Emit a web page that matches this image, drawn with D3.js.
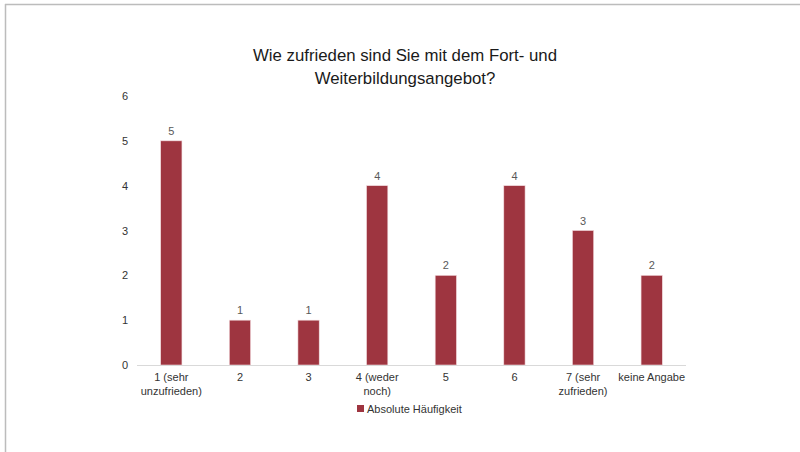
<!DOCTYPE html>
<html lang="de">
<head>
<meta charset="UTF-8">
<title>Fort- und Weiterbildungsangebot</title>
<script src="https://d3js.org/d3.v7.min.js"></script>
<style>
    body { margin: 0; background: #fff; }
    text { font-family: "Liberation Sans", Arial, Helvetica, sans-serif; }
</style>
</head>
<body>
<svg id="chart" width="800" height="452"></svg>
<script>
    // Kategorien (Zeilenumbruch als Array)
    const categories = [
        ["1 (sehr", "unzufrieden)"],
        ["2"],
        ["3"],
        ["4 (weder", "noch)"],
        ["5"],
        ["6"],
        ["7 (sehr", "zufrieden)"],
        ["keine Angabe"]
    ];
    const values = [5, 1, 1, 4, 2, 4, 3, 2];
    const yTicks = [0, 1, 2, 3, 4, 5, 6];
    const titleLines = ["Wie zufrieden sind Sie mit dem Fort- und", "Weiterbildungsangebot?"];
    const seriesName = "Absolute Häufigkeit";

    const barColor = "#9e3540";
    const svg = d3.select("#chart");

    // Rahmen
    svg.append("line").attr("x1", 5).attr("x2", 800).attr("y1", 4.5).attr("y2", 4.5)
        .attr("stroke", "#bcbcbc").attr("stroke-width", 1.5);
    svg.append("line").attr("x1", 5.5).attr("x2", 5.5).attr("y1", 4).attr("y2", 452)
        .attr("stroke", "#bcbcbc").attr("stroke-width", 1.5);

    const plotLeft = 137, plotRight = 686, plotTop = 96, plotBottom = 365;
    const keys = categories.map((d, i) => i);

    const x = d3.scaleBand().domain(keys).range([plotLeft, plotRight]).paddingInner(0.69).paddingOuter(0.345);
    const y = d3.scaleLinear().domain([0, 6]).range([plotBottom, plotTop]);

    // Titel
    svg.append("g").selectAll("text")
        .data(titleLines)
        .join("text")
        .attr("x", 405)
        .attr("y", (d, i) => 61 + i * 23)
        .attr("text-anchor", "middle")
        .attr("font-size", 16.8)
        .attr("fill", "#1a1a1a")
        .text(d => d);

    // y-Achse (nur Beschriftung)
    const yAxis = svg.append("g")
        .attr("transform", `translate(${plotLeft - 9},0)`)
        .call(d3.axisLeft(y).tickValues(yTicks).tickFormat(d3.format("d")).tickSize(0).tickPadding(0));
    yAxis.select(".domain").remove();
    yAxis.selectAll("text").attr("font-size", 11).attr("fill", "#333")
        .attr("font-family", "Liberation Sans, Arial, sans-serif");

    // Balken
    svg.append("g").selectAll("rect")
        .data(values)
        .join("rect")
        .attr("x", (d, i) => x(i))
        .attr("y", d => y(d))
        .attr("width", x.bandwidth())
        .attr("height", d => y(0) - y(d))
        .attr("fill", barColor)
        .attr("stroke", "#f3dcdf")
        .attr("stroke-width", 0.6);

    // Datenbeschriftung
    svg.append("g").selectAll("text")
        .data(values)
        .join("text")
        .attr("x", (d, i) => x(i) + x.bandwidth() / 2)
        .attr("y", d => y(d) - 6)
        .attr("text-anchor", "middle")
        .attr("font-size", 11)
        .attr("fill", "#595959")
        .text(d => d);

    // x-Achse
    svg.append("line")
        .attr("x1", plotLeft).attr("x2", plotRight)
        .attr("y1", y(0) + 0.5).attr("y2", y(0) + 0.5)
        .attr("stroke", "#d9d9d9").attr("stroke-width", 1);

    const xl = svg.append("g").selectAll("text")
        .data(categories)
        .join("text")
        .attr("text-anchor", "middle")
        .attr("font-size", 11)
        .attr("fill", "#333")
        .attr("x", (d, i) => x(i) + x.bandwidth() / 2)
        .attr("y", 381);
    xl.selectAll("tspan")
        .data(d => d)
        .join("tspan")
        .attr("x", function () { return d3.select(this.parentNode).attr("x"); })
        .attr("dy", (d, i) => i === 0 ? 0 : 13.5)
        .text(d => d);

    // Legende
    const lg = svg.append("g").attr("transform", "translate(357,405)");
    lg.append("rect").attr("width", 7).attr("height", 7).attr("fill", barColor);
    lg.append("text").attr("x", 10).attr("y", 7.5)
        .attr("font-size", 11).attr("fill", "#333").text(seriesName);
</script>
</body>
</html>
